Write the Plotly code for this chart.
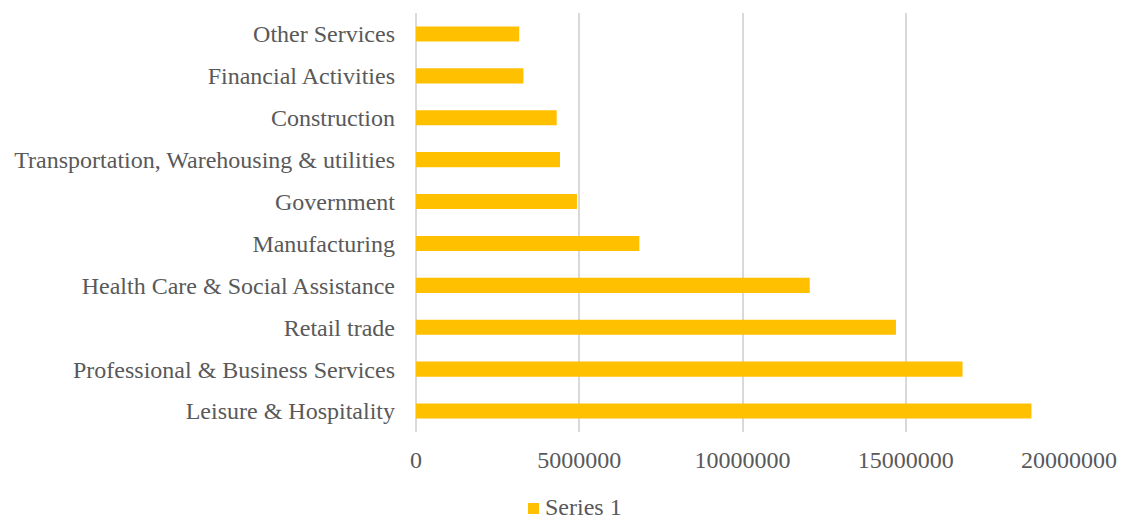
import plotly.graph_objects as go

# Employment by industry (horizontal bars, bottom-to-top order)
categories = [
    "Leisure & Hospitality",
    "Professional & Business Services",
    "Retail trade",
    "Health Care & Social Assistance",
    "Manufacturing",
    "Government",
    "Transportation, Warehousing & utilities",
    "Construction",
    "Financial Activities",
    "Other Services",
]
series_1 = [18850000, 16740000, 14700000, 12060000, 6840000,
            4930000, 4410000, 4310000, 3290000, 3160000]
x_ticks = [0, 5000000, 10000000, 15000000, 20000000]
x_tick_labels = ["0", "5000000", "10000000", "15000000", "20000000"]
series_name = "Series 1"

W, H = 1121, 522
ML, MR, MT, MB = 416, 52, 13, 90
PLOT_W = W - ML - MR
PLOT_H = H - MT - MB
FONT = "Liberation Serif, Times New Roman, serif"
GREY_TEXT = "#595959"
BAR_COLOR = "#FFC000"


def px_to_paper_x(px):
    return (px - ML) / PLOT_W


def px_to_paper_y(py):
    return (H - MB - py) / PLOT_H


fig = go.Figure(
    go.Bar(
        y=categories,
        x=series_1,
        orientation="h",
        name=series_name,
        marker=dict(color=BAR_COLOR, line=dict(width=0)),
        showlegend=False,
    )
)

# Legend entry below the axis: a small swatch followed by the series name
fig.add_shape(
    type="rect",
    xref="paper", yref="paper",
    x0=px_to_paper_x(528), x1=px_to_paper_x(539),
    y0=px_to_paper_y(514), y1=px_to_paper_y(503),
    fillcolor=BAR_COLOR, line=dict(width=0),
)
fig.add_annotation(
    text=series_name,
    xref="paper", yref="paper",
    x=px_to_paper_x(544), y=px_to_paper_y(507),
    xanchor="left", yanchor="middle",
    borderpad=0,
    showarrow=False,
    font=dict(family=FONT, size=24, color=GREY_TEXT),
)

fig.update_layout(
    width=W,
    height=H,
    margin=dict(l=ML, r=MR, t=MT, b=MB),
    paper_bgcolor="white",
    plot_bgcolor="white",
    bargap=0.64,
    font=dict(family=FONT, size=24, color=GREY_TEXT),
    showlegend=False,
    xaxis=dict(
        range=[0, 20000000],
        tickvals=x_ticks,
        ticktext=x_tick_labels,
        showgrid=True,
        gridcolor="#D9D9D9",
        gridwidth=1.5,
        zeroline=True,
        zerolinecolor="#D9D9D9",
        zerolinewidth=1.5,
        showline=False,
        ticks="",
        ticklabelstandoff=11,
        automargin=False,
        fixedrange=True,
    ),
    yaxis=dict(
        showgrid=False,
        zeroline=False,
        showline=False,
        ticks="",
        ticklabelstandoff=20,
        automargin=False,
        fixedrange=True,
    ),
)

fig.write_html("out.html")
